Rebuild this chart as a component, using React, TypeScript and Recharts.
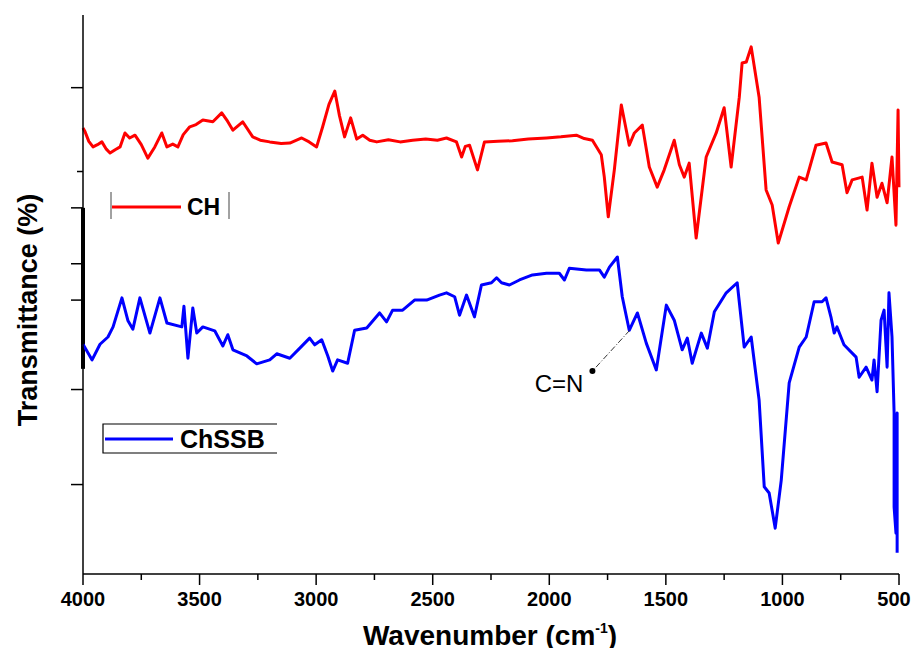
import { LineChart, Line, XAxis, YAxis, ReferenceLine, ReferenceDot, Label } from 'recharts'

const FONT = '"Liberation Sans", Arial, sans-serif'

// [wavenumber (cm-1), transmittance (%)]
const chSpectrum: [number, number][] = [
  [4000, 79.8], [3991, 79.1], [3975, 77.4], [3957, 76.4], [3938, 76.8], [3919, 77.3],
  [3900, 76.0], [3884, 75.3], [3862, 75.9], [3841, 76.4], [3820, 78.9], [3800, 78.0],
  [3777, 78.5], [3750, 76.8], [3722, 74.4], [3692, 76.4], [3662, 78.9], [3640, 76.4],
  [3615, 76.9], [3593, 76.4], [3570, 78.6], [3542, 80.0], [3515, 80.4], [3486, 81.2],
  [3443, 80.9], [3405, 82.5], [3380, 81.0], [3357, 79.4], [3315, 80.9], [3272, 78.2],
  [3240, 77.6], [3199, 77.3], [3150, 77.0], [3113, 77.1], [3062, 78.0], [3030, 77.3],
  [2998, 76.4], [2972, 80.0], [2945, 84.0], [2920, 86.4], [2900, 82.0], [2878, 78.2],
  [2852, 81.6], [2826, 77.8], [2800, 78.5], [2770, 77.6], [2740, 77.3], [2690, 77.7],
  [2640, 77.3], [2586, 77.6], [2530, 77.8], [2480, 77.6], [2441, 78.0], [2398, 77.3],
  [2376, 74.6], [2360, 76.5], [2342, 76.7], [2308, 72.3], [2278, 77.3], [2220, 77.4],
  [2158, 77.5], [2090, 77.8], [2012, 78.0], [1950, 78.2], [1884, 78.5], [1850, 77.9],
  [1815, 77.6], [1777, 75.0], [1764, 71.0], [1747, 63.9], [1721, 72.3], [1691, 83.9],
  [1657, 76.7], [1635, 78.9], [1601, 80.3], [1571, 72.8], [1537, 69.2], [1507, 72.3],
  [1464, 77.6], [1442, 73.2], [1421, 71.0], [1400, 73.5], [1370, 60.1], [1327, 74.6],
  [1284, 78.9], [1250, 83.4], [1220, 72.8], [1185, 85.3], [1173, 91.4], [1155, 91.6],
  [1134, 94.3], [1100, 85.3], [1070, 68.7], [1044, 66.0], [1018, 59.2], [971, 65.7],
  [928, 71.0], [898, 70.5], [856, 76.7], [813, 77.1], [787, 73.7], [744, 73.2],
  [723, 68.2], [701, 70.5], [658, 71.0], [637, 65.1], [616, 73.5], [594, 67.4],
  [573, 69.9], [551, 66.4], [530, 74.6], [513, 62.4], [504, 83.0], [500, 69.2],
]

const chssbSpectrum: [number, number][] = [
  [4000, 41.1], [3961, 38.3], [3927, 41.1], [3893, 42.4], [3871, 44.2], [3833, 49.4],
  [3807, 45.3], [3786, 43.8], [3756, 49.4], [3713, 43.1], [3670, 49.4], [3640, 44.9],
  [3576, 44.2], [3567, 47.9], [3550, 38.6], [3529, 47.6], [3512, 43.1], [3486, 44.2],
  [3435, 43.5], [3400, 40.8], [3379, 42.8], [3357, 40.1], [3297, 39.0], [3255, 37.6],
  [3199, 38.3], [3169, 39.4], [3113, 38.6], [3070, 40.4], [3028, 42.2], [3006, 41.0],
  [2976, 41.9], [2950, 39.0], [2929, 36.3], [2908, 38.3], [2865, 37.7], [2835, 43.6],
  [2783, 44.0], [2728, 46.7], [2698, 45.1], [2672, 47.2], [2629, 47.2], [2578, 49.0],
  [2526, 49.0], [2471, 49.9], [2441, 50.3], [2406, 49.6], [2385, 46.3], [2355, 49.9],
  [2321, 46.0], [2291, 51.7], [2248, 52.1], [2226, 53.0], [2205, 52.1], [2171, 51.7],
  [2128, 52.6], [2072, 53.5], [2012, 53.8], [1957, 53.8], [1935, 52.6], [1914, 54.7],
  [1841, 54.4], [1785, 54.4], [1764, 53.1], [1742, 54.9], [1708, 56.7], [1687, 49.6],
  [1657, 43.6], [1622, 46.7], [1584, 41.3], [1541, 36.5], [1498, 48.1], [1464, 45.4],
  [1430, 40.1], [1408, 42.2], [1387, 37.7], [1348, 43.1], [1322, 40.4], [1292, 46.9],
  [1241, 50.3], [1194, 52.1], [1164, 40.6], [1134, 42.4], [1100, 31.1], [1078, 15.6],
  [1057, 14.5], [1031, 8.2], [1005, 16.8], [971, 34.2], [928, 40.6], [898, 42.4],
  [864, 48.7], [830, 48.7], [813, 49.4], [791, 45.8], [778, 43.1], [766, 44.2],
  [736, 41.0], [684, 38.8], [671, 35.2], [641, 37.0], [616, 34.7], [607, 38.3],
  [594, 32.6], [577, 45.4], [564, 47.2], [551, 37.0], [543, 50.3], [530, 42.4],
  [521, 28.8], [521, 12.0], [513, 7.3], [508, 28.8], [508, 3.8],
]

const xTicks = [4000, 3750, 3500, 3250, 3000, 2750, 2500, 2250, 2000, 1750, 1500, 1250, 1000, 750, 500]
const xLabels = [4000, 3500, 3000, 2500, 2000, 1500, 1000, 500]
const yTicks = [16, 33, 49, 55.5, 65.5, 72, 87]
const yMinorTicks = [72]

// C=N band marker on the ChSSB trace
const cnPeak = { w: 1655, t: 43.6 }
const cnArrowTip = { w: 1815, t: 36.3 }
const cnText = { w: 1958, t: 34.0 }

const chData = chSpectrum.map(([w, t]) => ({ w, t }))
const chssbData = chssbSpectrum.map(([w, t]) => ({ w, t }))

function XTick({ x, y, payload }: any) {
  const major = xLabels.includes(payload.value)
  // last label sits at the page edge, pull it in a little
  const dx = payload.value === 500 ? -5 : 0
  return (
    <g>
      <line x1={x} x2={x} y1={y} y2={y + (major ? 11 : 6)} stroke="#000" strokeWidth={1.5} />
      {major && (
        <text x={x + dx} y={y + 32} textAnchor="middle" fontFamily={FONT} fontWeight="bold" fontSize={20} fill="#000">
          {payload.value}
        </text>
      )}
    </g>
  )
}

function YTick({ x, y, payload }: any) {
  const len = yMinorTicks.includes(payload.value) ? 6 : 12
  return <line x1={x - len} x2={x} y1={y} y2={y} stroke="#000" strokeWidth={1.5} />
}

export default function App() {
  return (
    <div style={{ position: 'relative', width: 911, height: 640 }}>
      <style>{'html, body { overflow: hidden; } .recharts-surface, .recharts-wrapper { overflow: visible !important; }'}</style>
      <LineChart width={911} height={640} margin={{ top: 7, right: 20, left: 0, bottom: 0 }}>
        <XAxis
          type="number"
          dataKey="w"
          domain={[500, 4000]}
          reversed
          ticks={xTicks}
          interval={0}
          tickSize={0}
          tickMargin={0}
          tickLine={false}
          tick={<XTick />}
          height={74}
          axisLine={{ stroke: '#000', strokeWidth: 1.5 }}
        />
        <YAxis
          type="number"
          domain={[0, 100]}
          ticks={yTicks}
          interval={0}
          tickSize={0}
          tickMargin={0}
          tickLine={false}
          tick={<YTick />}
          width={75}
          axisLine={{ stroke: '#000', strokeWidth: 1.5 }}
        />
        <ReferenceLine
          segment={[{ x: 4000, y: 65.5 }, { x: 4000, y: 36.7 }]}
          stroke="#000"
          strokeWidth={4}
          ifOverflow="visible"
        />
        <Line
          data={chData}
          dataKey="t"
          type="linear"
          stroke="#ff0000"
          strokeWidth={3}
          dot={false}
          strokeLinejoin="round"
          isAnimationActive={false}
        />
        <Line
          data={chssbData}
          dataKey="t"
          type="linear"
          stroke="#0000ff"
          strokeWidth={3}
          dot={false}
          strokeLinejoin="round"
          isAnimationActive={false}
        />
        <ReferenceLine
          segment={[{ x: cnPeak.w, y: cnPeak.t }, { x: cnArrowTip.w, y: cnArrowTip.t }]}
          stroke="#333"
          strokeWidth={1}
          strokeDasharray="6 2 1 2"
        />
        <ReferenceDot x={cnArrowTip.w} y={cnArrowTip.t} r={3} fill="#000" stroke="none" />
        <ReferenceDot x={cnText.w} y={cnText.t} r={0} stroke="none">
          <Label value="C=N" position="center" fontFamily={FONT} fontSize={24} fill="#000" />
        </ReferenceDot>
      </LineChart>

      {/* axis titles and the two legend boxes */}
      <svg
        width={911}
        height={640}
        style={{ position: 'absolute', left: 0, top: 0, pointerEvents: 'none', overflow: 'visible' }}
        fontFamily={FONT}
        fontWeight="bold"
      >
        <text transform="translate(29, 302) rotate(-90)" textAnchor="middle" fontSize={27} fill="#000">
          Transmittance (%)
        </text>
        <text x={482} y={637} textAnchor="middle" fontSize={28} fill="#000">
          Wavenumber (cm<tspan dy={-12} fontSize={14}>-1</tspan><tspan dy={12}>)</tspan>
        </text>

        <line x1={103} x2={103} y1={184} y2={211} stroke="#444" strokeWidth={1} />
        <line x1={104} x2={173} y1={199} y2={199} stroke="#ff0000" strokeWidth={3} />
        <text x={179} y={207} fontSize={23} fill="#000">CH</text>
        <line x1={221} x2={221} y1={184} y2={211} stroke="#444" strokeWidth={1} />

        <path d="M269 416 H95 V445 H269" fill="none" stroke="#000" strokeWidth={1.2} />
        <line x1={97} x2={165} y1={431} y2={431} stroke="#0000ff" strokeWidth={3} />
        <text x={172} y={440} fontSize={25} fill="#000">ChSSB</text>
      </svg>
    </div>
  )
}
